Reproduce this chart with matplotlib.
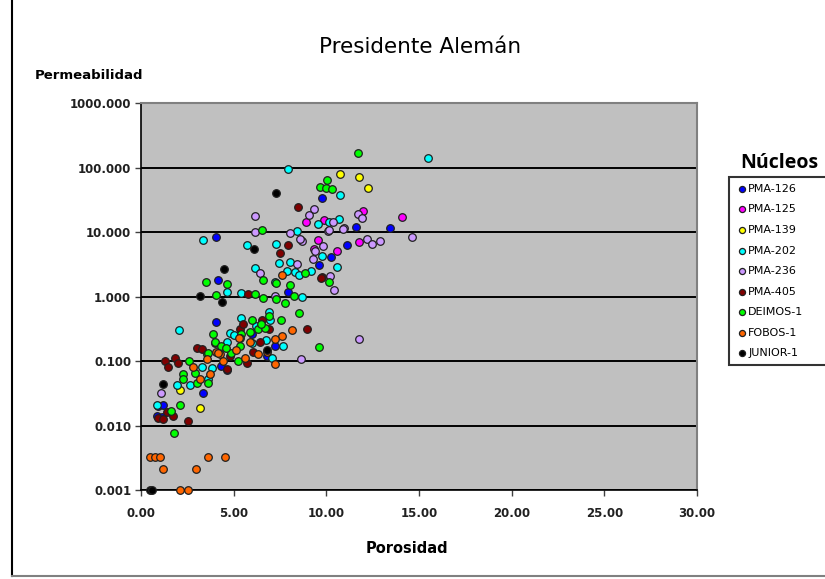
import numpy as np
import matplotlib.pyplot as plt
from matplotlib.lines import Line2D
from matplotlib.ticker import FixedLocator, FuncFormatter, NullLocator

# Porosidad (%) , Permeabilidad (mD)
pma126 = [(4.05, 8.3), (9.76, 33.5), (11.6, 11.9), (13.43, 11.5), (11.11, 6.25),
          (10.25, 4.07), (9.6, 3.06), (4.15, 1.79), (4.05, 0.40), (4.64, 0.074),
          (4.31, 0.083), (3.34, 0.032), (7.23, 0.17), (0.92, 0.020), (1.19, 0.0205),
          (0.86, 0.0139), (1.13, 0.0134), (7.93, 1.17), (6.0, 0.26), (6.8, 0.12)]
pma125 = [(12.0, 21.6), (14.1, 17.4), (8.9, 14.6), (9.9, 15.7), (9.55, 7.7),
          (11.75, 7.0), (10.55, 5.1), (9.35, 5.4)]
pma139 = [(10.73, 79), (11.76, 71), (12.24, 48), (3.18, 0.019), (2.1, 0.036)]
pma202 = [(15.5, 144), (7.91, 94), (10.73, 38), (3.36, 7.5), (5.73, 6.25), (7.26, 6.5),
          (8.43, 10.4), (9.56, 13.2), (10.16, 14.4), (10.7, 15.8), (7.46, 3.37),
          (8.03, 3.44), (6.15, 2.75), (7.86, 2.5), (8.31, 2.4), (9.75, 4.27),
          (10.55, 2.88), (9.2, 2.5), (7.23, 1.69), (4.62, 1.18), (5.39, 1.15),
          (2.05, 0.30), (5.42, 0.46), (6.92, 0.57), (6.97, 0.43), (4.8, 0.276),
          (8.67, 0.99), (7.68, 0.17), (6.74, 0.21), (7.05, 0.11), (3.27, 0.082),
          (3.81, 0.079), (1.92, 0.042), (2.64, 0.042), (3.63, 0.052), (0.85, 0.021),
          (4.62, 0.2), (8.55, 2.2), (6.2, 0.35), (5.0, 0.25), (6.0, 0.19)]
pma236 = [(6.15, 17.8), (6.15, 10), (8.04, 9.6), (8.67, 7.3), (9.33, 22.6), (9.07, 18.2),
          (10.37, 14.4), (10.95, 11.7), (10.1, 10.4), (11.72, 19.4), (11.9, 16.8),
          (12.17, 7.8), (12.48, 6.5), (12.9, 7.3), (14.6, 8.4), (9.39, 5.1), (9.84, 6.1),
          (9.29, 3.8), (8.43, 3.17), (6.42, 2.36), (8.58, 7.8), (10.16, 11), (10.9, 11.3),
          (10.4, 1.27), (10.19, 2.1), (11.78, 0.22), (8.63, 0.107), (1.06, 0.032),
          (7.23, 1.02)]
pma405 = [(8.48, 24.5), (7.91, 6.3), (7.48, 4.8), (9.75, 2.04), (5.79, 1.09), (5.34, 0.31),
          (6.51, 0.44), (3.0, 0.16), (3.27, 0.155), (9.74, 1.97), (8.97, 0.31), (1.29, 0.1),
          (1.83, 0.113), (2.01, 0.095), (1.47, 0.082), (4.62, 0.076), (6.06, 0.14),
          (5.7, 0.095), (3.99, 0.19), (0.93, 0.013), (1.74, 0.014), (2.55, 0.0117),
          (1.39, 0.016), (1.2, 0.0125), (6.4, 0.2), (5.5, 0.37), (4.8, 0.12), (6.9, 0.32)]
deimos1 = [(11.72, 171), (10.02, 64), (9.64, 51), (9.96, 48), (10.28, 46), (6.51, 10.7),
           (8.83, 2.36), (3.5, 1.69), (4.62, 1.55), (6.6, 1.79), (7.28, 1.65), (8.06, 1.5),
           (10.16, 1.69), (4.05, 1.05), (6.15, 1.09), (6.56, 0.96), (7.77, 0.81),
           (7.28, 0.93), (5.97, 0.44), (6.33, 0.31), (7.53, 0.43), (3.87, 0.26),
           (5.39, 0.26), (4.88, 0.135), (3.54, 0.127), (8.25, 1.02), (8.53, 0.56),
           (9.62, 0.165), (5.34, 0.23), (6.67, 0.33), (5.34, 0.17), (3.63, 0.135),
           (5.25, 0.1), (2.6, 0.1), (2.28, 0.062), (2.28, 0.052), (2.91, 0.066),
           (2.09, 0.0205), (1.6, 0.017), (1.8, 0.0076), (3.63, 0.046), (4.0, 0.2),
           (3.0, 0.046), (4.3, 0.17), (6.5, 0.38), (5.9, 0.28), (4.6, 0.16), (6.9, 0.5)]
fobos1 = [(8.13, 0.30), (7.59, 0.245), (7.23, 0.22), (7.23, 0.089), (5.86, 0.2),
          (5.59, 0.113), (4.26, 0.127), (3.72, 0.062), (3.18, 0.052), (2.79, 0.082),
          (4.05, 0.14), (3.54, 0.107), (7.59, 2.14), (4.17, 0.135), (0.49, 0.0033),
          (0.76, 0.0033), (1.02, 0.0033), (1.17, 0.0021), (2.97, 0.0021), (3.63, 0.0033),
          (4.53, 0.0033), (2.1, 0.001), (2.55, 0.001), (5.1, 0.15), (6.3, 0.13),
          (6.8, 0.14), (5.3, 0.23), (4.4, 0.1)]
junior1 = [(7.26, 41), (6.11, 5.4), (4.48, 2.65), (3.18, 1.02), (4.35, 0.82), (6.78, 0.15),
           (1.17, 0.044), (0.5, 0.001), (0.62, 0.001)]

names = ['PMA-126', 'PMA-125', 'PMA-139', 'PMA-202', 'PMA-236', 'PMA-405',
         'DEIMOS-1', 'FOBOS-1', 'JUNIOR-1']
series = [pma126, pma125, pma139, pma202, pma236, pma405, deimos1, fobos1, junior1]
colors = ['#0000ff', '#ff00ff', '#ffff00', '#00ffff', '#cc99ff', '#800000',
          '#00ff00', '#ff6600', '#000000']

fig = plt.figure(figsize=(8.25, 5.79), dpi=100)
ax = fig.add_axes([0.1709, 0.1537, 0.6739, 0.6679])
ax.set_facecolor('#c0c0c0')

for pts, c, n in zip(series, colors, names):
    xs, ys = zip(*pts)
    ax.scatter(xs, ys, s=30, c=c, edgecolors='#202020', linewidths=0.9,
               label=n, zorder=3, clip_on=False)

ax.set_yscale('log')
ax.set_xlim(0, 30)
ax.set_ylim(0.001, 1000)

ax.yaxis.set_major_locator(FixedLocator([1e-3, 1e-2, 1e-1, 1, 10, 100, 1000]))
ax.yaxis.set_minor_locator(NullLocator())
ax.yaxis.set_major_formatter(FuncFormatter(lambda v, p: '%.3f' % v))
ax.set_xticks(np.arange(0, 31, 5))
ax.xaxis.set_major_formatter(FuncFormatter(lambda v, p: '%.2f' % v))
ax.tick_params(labelsize=8.5, length=4, width=1, color='#404040', pad=3)
ax.tick_params(axis='x', pad=8)
for lab in ax.get_xticklabels() + ax.get_yticklabels():
    lab.set_fontweight('bold')
    lab.set_color('#202020')

ax.grid(axis='y', color='black', lw=1.4, zorder=1)
ax.set_axisbelow(True)
for s in ['top', 'right']:
    ax.spines[s].set_color('#808080')
    ax.spines[s].set_linewidth(1.5)
for s in ['left', 'bottom']:
    ax.spines[s].set_color('black')
    ax.spines[s].set_linewidth(1.2)

fig.text(0.509, 0.919, 'Presidente Alemán', ha='center', va='center', fontsize=15.5)
fig.text(0.042, 0.870, 'Permeabilidad', ha='left', va='center', fontsize=9.5,
         fontweight='bold')
fig.text(0.493, 0.0535, 'Porosidad', ha='center', va='center', fontsize=10.5,
         fontweight='bold')
fig.text(0.945, 0.718, 'Núcleos', ha='center', va='center', fontsize=14,
         fontweight='bold', family='Open Sans')

leg = fig.legend(loc='upper left', bbox_to_anchor=(0.884, 0.694, 0.13, 0),
                 mode='expand', frameon=True,
                 fancybox=False, fontsize=8, handletextpad=0.1, handlelength=1.0,
                 labelspacing=0.95, borderpad=0.6, borderaxespad=0,
                 markerscale=0.8)
leg.get_frame().set_edgecolor('black')
leg.get_frame().set_linewidth(1.5)

# outer chart border
fig.add_artist(Line2D([12 / 825, 12 / 825], [0.005, 1], color='black', lw=1.5))
fig.add_artist(Line2D([12 / 825, 1], [0.005, 0.005], color='#808080', lw=1.5))

fig.savefig('out.png', dpi=100)
